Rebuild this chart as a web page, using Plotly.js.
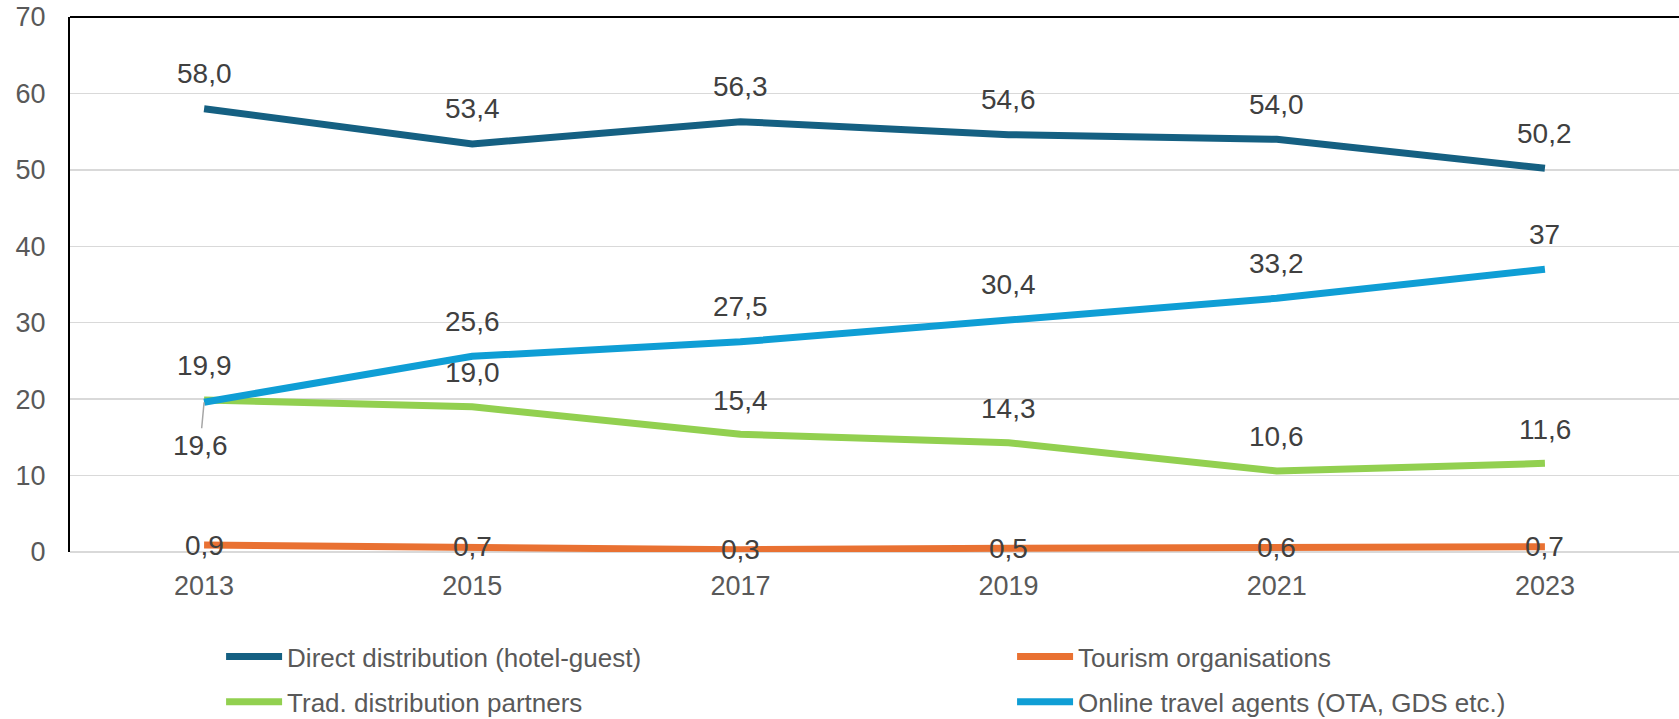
<!DOCTYPE html>
<html>
<head>
<meta charset="utf-8">
<script src="https://cdn.plot.ly/plotly-3.0.1.min.js"></script>
<style>
  html, body { margin: 0; padding: 0; background: #fff; }
  #chart { width: 1679px; height: 719px; }
</style>
</head>
<body>
<div id="chart"></div>
<script>
// ---- data ----
const years = ['2013', '2015', '2017', '2019', '2021', '2023'];
const directDistribution = [58.0, 53.4, 56.3, 54.6, 54.0, 50.2];
const tourismOrganisations = [0.9, 0.7, 0.3, 0.5, 0.6, 0.7];
const tradDistribution = [19.9, 19.0, 15.4, 14.3, 10.6, 11.6];
const onlineTravelAgents = [19.6, 25.6, 27.5, 30.4, 33.2, 37];
const otaLabels = ['19,6', '25,6', '27,5', '30,4', '33,2', '37'];
const seriesNames = [
  'Direct distribution (hotel-guest)',
  'Tourism organisations',
  'Trad. distribution partners',
  'Online travel agents (OTA, GDS etc.)'
];
const yTicks = [0, 10, 20, 30, 40, 50, 60, 70];

// ---- style ----
const FONT = 'Liberation Sans, Arial, Helvetica, sans-serif';
const colors = ['#156082', '#E97132', '#92D050', '#0F9ED5'];
const labelColor = '#404040';
const tickColor = '#595959';
const LABEL_SIZE = 28;

function fmt(v) { return v.toFixed(1).replace('.', ','); }

const seriesValues = [directDistribution, tourismOrganisations, tradDistribution, onlineTravelAgents];
const legendIds = ['legend', 'legend2', 'legend3', 'legend4'];

const traces = seriesValues.map((vals, i) => ({
  type: 'scatter',
  mode: 'lines',
  x: years,
  y: vals,
  name: seriesNames[i],
  legend: legendIds[i],
  line: { color: colors[i], width: 7 },
  hoverinfo: 'x+y+name'
}));

const labelAnnotations = [];
function addLabels(vals, texts, shift) {
  vals.forEach((v, j) => {
    labelAnnotations.push({
      x: j, y: v, xref: 'x', yref: 'y',
      text: texts[j], showarrow: false,
      yshift: shift, xanchor: 'center', yanchor: 'middle',
      font: { family: FONT, size: LABEL_SIZE, color: labelColor }
    });
  });
}
addLabels(directDistribution, directDistribution.map(fmt), 35);
addLabels(tourismOrganisations, tourismOrganisations.map(fmt), 0);
addLabels(tradDistribution, tradDistribution.map(fmt), 34);
onlineTravelAgents.forEach((v, j) => {
  if (j === 0) {
    labelAnnotations.push({
      x: j, y: v, xref: 'x', yref: 'y',
      text: otaLabels[j], showarrow: true,
      arrowhead: 0, arrowwidth: 1.5, arrowcolor: '#A6A6A6',
      ax: -4, ay: 43, standoff: 0,
      xanchor: 'center', yanchor: 'middle',
      font: { family: FONT, size: LABEL_SIZE, color: labelColor }
    });
  } else {
    labelAnnotations.push({
      x: j, y: v, xref: 'x', yref: 'y',
      text: otaLabels[j], showarrow: false,
      yshift: 35, xanchor: 'center', yanchor: 'middle',
      font: { family: FONT, size: LABEL_SIZE, color: labelColor }
    });
  }
});

function legendAt(x, y) {
  return {
    orientation: 'h',
    font: { family: FONT, size: 26, color: tickColor },
    itemwidth: 56,
    bgcolor: 'rgba(0,0,0,0)',
    xanchor: 'left',
    yanchor: 'middle',
    x: x, y: y
  };
}

const layout = {
  width: 1679,
  height: 719,
  margin: { l: 70, r: 0, t: 17, b: 167, autoexpand: false },
  paper_bgcolor: '#ffffff',
  plot_bgcolor: '#ffffff',
  font: { family: FONT, color: tickColor },
  showlegend: true,
  legend: legendAt(0.0939, -0.1957),
  legend2: legendAt(0.5855, -0.1957),
  legend3: legendAt(0.0939, -0.28),
  legend4: legendAt(0.5855, -0.28),
  xaxis: {
    type: 'category',
    range: [-0.5, 5.5],
    showgrid: false,
    showline: false,
    zeroline: false,
    ticks: '',
    ticklabelstandoff: 15,
    tickfont: { family: FONT, size: 27, color: tickColor },
    fixedrange: true
  },
  yaxis: {
    range: [0, 70],
    tickvals: yTicks,
    ticktext: yTicks.map(String),
    showgrid: true,
    gridcolor: '#D9D9D9',
    gridwidth: 1.5,
    zeroline: true,
    zerolinecolor: '#D9D9D9',
    zerolinewidth: 2.5,
    showline: true,
    linecolor: '#000000',
    linewidth: 2,
    ticks: '',
    ticklabelstandoff: 17,
    tickfont: { family: FONT, size: 27, color: tickColor },
    fixedrange: true
  },
  shapes: [{
    type: 'line', xref: 'paper', yref: 'paper',
    x0: 0, x1: 1, y0: 1, y1: 1,
    line: { color: '#000000', width: 2 }
  }],
  annotations: labelAnnotations
};

Plotly.newPlot('chart', traces, layout, { displayModeBar: false, staticPlot: true });
</script>
</body>
</html>
